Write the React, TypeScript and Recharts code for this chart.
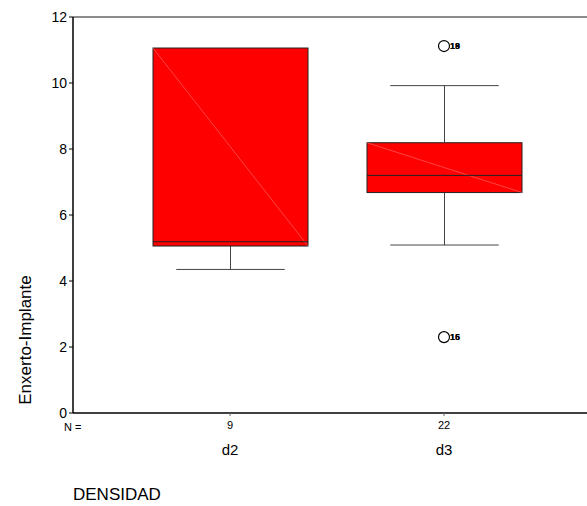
import React from 'react';
import { ComposedChart, Bar, Line, XAxis, YAxis, ReferenceLine } from 'recharts';

const categories = ['d2', 'd3'];
const counts = [9, 22];
const whiskerLow = [4.35, 5.09];
const quartile1 = [5.06, 6.68];
const medians = [5.19, 7.2];
const quartile3 = [11.06, 8.19];
const whiskerHigh = [11.06, 9.92];
const outliersHigh: (number | null)[] = [null, 11.12];
const outliersHighLabels = [[], ['18', '19']];
const outliersLow: (number | null)[] = [null, 2.3];
const outliersLowLabels = [[], ['15', '16']];
const yTicks = [0, 2, 4, 6, 8, 10, 12];

const FONT = 'Arial, "Liberation Sans", Helvetica, sans-serif';

const data = categories.map((name, i) => ({
  name,
  n: counts[i],
  median: medians[i],
  q1: quartile1[i],
  q3: quartile3[i],
  base: whiskerLow[i],
  lowWhisker: quartile1[i] - whiskerLow[i],
  box: quartile3[i] - quartile1[i],
  highWhisker: whiskerHigh[i] - quartile3[i],
  outHi: outliersHigh[i],
  outHiLabels: outliersHighLabels[i],
  outLo: outliersLow[i],
  outLoLabels: outliersLowLabels[i],
}));

const BoxShape = (props: any) => {
  const { x, y, width, height, payload } = props;
  if (!height) return <g />;
  const my = y + (height * (payload.q3 - payload.median)) / (payload.q3 - payload.q1);
  return (
    <g>
      <rect x={x} y={y} width={width} height={height} fill="#ff0000" stroke="#222" strokeWidth={1} />
      <line x1={x} y1={y} x2={x + width} y2={y + height} stroke="#ff7070" strokeWidth={0.6} />
      <line x1={x} y1={my} x2={x + width} y2={my} stroke="#222" strokeWidth={1} />
    </g>
  );
};

const whisker = (capAtTop: boolean) => (props: any) => {
  const { x, y, width, height } = props;
  if (!height || height <= 0) return <g />;
  const cx = x + width / 2;
  const capY = capAtTop ? y : y + height;
  const half = width * 0.35;
  return (
    <g stroke="#444" strokeWidth={1}>
      <line x1={cx} y1={y} x2={cx} y2={y + height} />
      <line x1={cx - half} y1={capY} x2={cx + half} y2={capY} />
    </g>
  );
};

const outlierDot = (labelKey: string) => (props: any) => {
  const { cx, cy, payload, index } = props;
  if (cy == null || cx == null) return <g key={`o-${labelKey}-${index}`} />;
  const labels: string[] = payload[labelKey] || [];
  return (
    <g key={`o-${labelKey}-${index}`}>
      <circle cx={cx} cy={cy} r={5.5} fill="none" stroke="#000" strokeWidth={1.2} />
      {labels.map((l) => (
        <text key={l} x={cx + 6} y={cy} dy="0.35em" fontSize={9} fontWeight="bold" fill="#000" fontFamily={FONT}>
          {l}
        </text>
      ))}
    </g>
  );
};

const CategoryTick = (props: any) => {
  const { x, y, payload, index } = props;
  return (
    <g>
      <text x={x} y={y + 11} textAnchor="middle" fontSize={11} fill="#000" fontFamily={FONT}>
        {counts[index]}
      </text>
      <text x={x} y={y + 37} textAnchor="middle" fontSize={15} fill="#000" fontFamily={FONT}>
        {payload.value}
      </text>
    </g>
  );
};

const App: React.FC = () => {
  return (
    <div style={{ position: 'relative', width: 587, height: 506, fontFamily: FONT }}>
      <style>{'body{margin:0}'}</style>
      <ComposedChart width={587} height={506} data={data} margin={{ top: 17, right: 0, bottom: 0, left: 0 }}>
        <XAxis
          dataKey="name"
          type="category"
          padding={{ left: 50, right: 36 }}
          height={93}
          tickSize={3}
          tick={<CategoryTick />}
          axisLine={{ stroke: '#000', strokeWidth: 1.5 }}
          tickLine={{ stroke: '#666' }}
        />
        <YAxis
          type="number"
          domain={[0, 12]}
          ticks={yTicks}
          width={73}
          tickSize={4}
          tick={{ fontSize: 14, fill: '#000', fontFamily: FONT }}
          axisLine={{ stroke: '#000', strokeWidth: 1.5 }}
          tickLine={{ stroke: '#000' }}
          allowDataOverflow
        />
        <ReferenceLine y={12} stroke="#666" strokeWidth={1.5} />
        <Bar dataKey="base" stackId="a" fill="none" barSize={155} isAnimationActive={false} shape={() => <g />} />
        <Bar dataKey="lowWhisker" stackId="a" barSize={155} isAnimationActive={false} shape={whisker(false)} />
        <Bar dataKey="box" stackId="a" barSize={155} isAnimationActive={false} shape={BoxShape} />
        <Bar dataKey="highWhisker" stackId="a" barSize={155} isAnimationActive={false} shape={whisker(true)} />
        <Line dataKey="outHi" stroke="none" dot={outlierDot('outHiLabels')} activeDot={false} isAnimationActive={false} />
        <Line dataKey="outLo" stroke="none" dot={outlierDot('outLoLabels')} activeDot={false} isAnimationActive={false} />
      </ComposedChart>
      <div style={{ position: 'absolute', left: 64, top: 421, fontSize: 11, lineHeight: '12px' }}>N =</div>
      <div
        style={{
          position: 'absolute',
          left: 26,
          top: 340,
          transform: 'translate(-50%, -50%) rotate(-90deg)',
          fontSize: 17,
          lineHeight: '20px',
          whiteSpace: 'nowrap',
        }}
      >
        Enxerto-Implante
      </div>
      <div style={{ position: 'absolute', left: 73, top: 485, fontSize: 17, lineHeight: '20px' }}>DENSIDAD</div>
    </div>
  );
};

export default App;
